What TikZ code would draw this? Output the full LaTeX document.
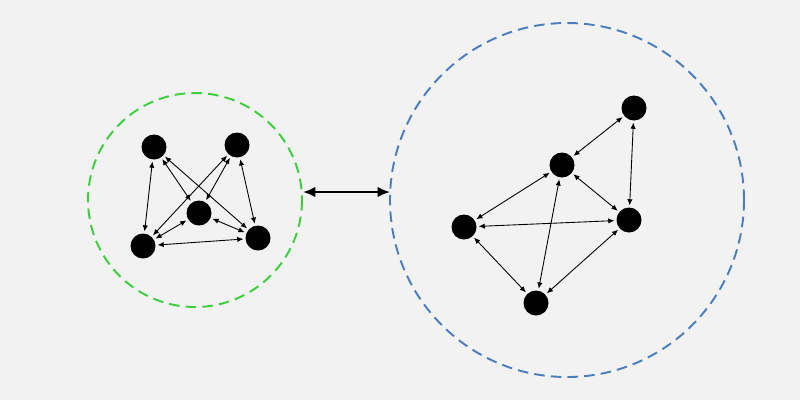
\documentclass[tikz,border=0pt]{standalone}
\usepackage{tikz}
\usetikzlibrary{arrows.meta}

\definecolor{bgcol}{HTML}{F2F2F2}
\definecolor{ringgreen}{HTML}{3BCF3B}
\definecolor{ringblue}{HTML}{4A7EC0}

\begin{document}
\begin{tikzpicture}[x=0.02cm,y=-0.02cm,
  vert/.style={circle,fill=black,inner sep=0pt,minimum size=0.5cm},
  link/.style={{Latex[length=3.5pt,width=3pt]}-{Latex[length=3.5pt,width=3pt]},line width=0.5pt,shorten <=1pt,shorten >=1pt},
  ring/.style={dashed,dash pattern=on 6pt off 3.5pt,line width=1.1pt},
  swap/.style={{Latex[length=7pt,width=6pt]}-{Latex[length=7pt,width=6pt]},line width=1.2pt}]
  \fill[bgcol] (0,0) rectangle (800,400);
  \useasboundingbox (0,0) rectangle (800,400);

  %left
  \draw[ring,ringgreen] (195,200) circle[radius=107];
  \node[vert] (l1) at (154,147) {};
  \node[vert] (l2) at (237,145) {};
  \node[vert] (l3) at (199,213) {};
  \node[vert] (l4) at (143,246) {};
  \node[vert] (l5) at (258,238) {};
  \foreach \a/\b in {l1/l4,l1/l3,l1/l5,l2/l4,l2/l3,l2/l5,l3/l4,l3/l5,l4/l5}
    \draw[link] (\a) -- (\b);

  %right
  \draw[ring,ringblue] (567,200) circle[radius=177];
  \node[vert] (r1) at (634,108) {};
  \node[vert] (r2) at (562,165) {};
  \node[vert] (r3) at (629,220) {};
  \node[vert] (r4) at (464,227) {};
  \node[vert] (r5) at (536,303) {};
  \foreach \a/\b in {r1/r2,r1/r3,r2/r4,r2/r3,r2/r5,r4/r3,r4/r5,r5/r3}
    \draw[link] (\a) -- (\b);

  %middle
  \coordinate (gl) at (303,192);
  \coordinate (gr) at (390,192);
  \draw[swap] (gl) -- (gr);
\end{tikzpicture}
\end{document}
